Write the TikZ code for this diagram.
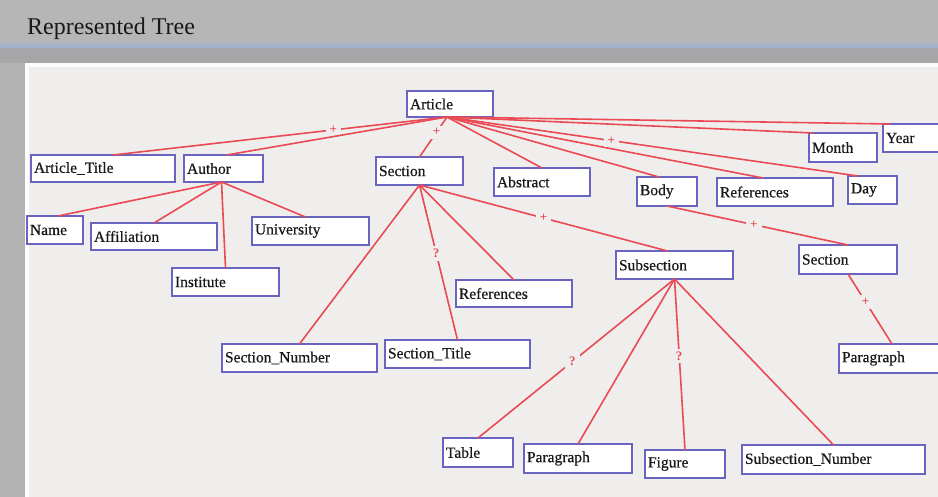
\documentclass[tikz,border=0pt]{standalone}
\usepackage{fontspec}
\setmainfont{Liberation Serif}
\newfontfamily\boxfont[FakeBold=0.5]{Liberation Serif}
\usetikzlibrary{calc}

\definecolor{winbg}{RGB}{178,178,178}
\definecolor{titlebg}{RGB}{182,182,182}
\definecolor{bandbg}{RGB}{166,166,168}
\definecolor{rulecol}{RGB}{160,176,204}
\definecolor{panel}{RGB}{240,238,236}
\definecolor{boxline}{RGB}{104,100,192}
\definecolor{edgered}{RGB}{234,74,84}
\definecolor{ink}{RGB}{24,24,24}

\tikzset{
  tbox/.style={draw=boxline, line width=1.7pt, fill=white, anchor=north west,
    inner xsep=3pt, inner ysep=0pt, outer sep=0pt, align=left, text=ink,
    font=\boxfont\fontsize{15.5}{17}\selectfont},
  link/.style={draw=edgered, line width=1.6pt},
  mk/.style={fill=panel, inner xsep=4pt, inner ysep=3pt, text=edgered,
    font=\fontsize{13}{13}\selectfont\bfseries}
}

\begin{document}
\begin{tikzpicture}[x=1pt,y=-1pt]
\clip (0,0) rectangle (938,497);

% window chrome
\fill[winbg] (0,0) rectangle (938,497);
\fill[titlebg] (0,0) rectangle (938,42);
\fill[rulecol!40!titlebg] (0,42) rectangle (938,45);
\fill[rulecol] (0,45) rectangle (938,48);
\fill[bandbg] (0,48) rectangle (938,63);
\fill[white!85!panel] (25,63) rectangle (938,497);
\fill[panel] (29,67) rectangle (938,497);
\node[anchor=west, text=ink, font=\fontsize{24}{26}\selectfont, inner sep=0pt]
  (title) at (27,29) {Represented Tree};

% tree nodes
\node[tbox, minimum height=26pt, text width=80pt]  (article)  at (407,91)  {Article};
\node[tbox, minimum height=27pt, text width=138pt] (atitle)   at (31,155)  {Article\_Title};
\node[tbox, minimum height=27pt, text width=73pt]  (author)   at (184,155) {Author};
\node[tbox, minimum height=28pt, text width=81pt]  (section)  at (376,157) {Section};
\node[tbox, minimum height=28pt, text width=90pt]  (abstract) at (494,168) {Abstract};
\node[tbox, minimum height=29pt, text width=54pt]  (body)     at (637,177) {Body};
\node[tbox, minimum height=28pt, text width=110pt] (refs)     at (717,178) {References};
\node[tbox, minimum height=28pt, text width=43pt]  (day)      at (848,176) {Day};
\node[tbox, minimum height=29pt, text width=62pt]  (month)    at (809,133) {Month};
\node[tbox, minimum height=28pt, text width=56pt]  (year)     at (883,124) {Year};

\node[tbox, minimum height=28pt, text width=50pt]  (name)     at (27,216)  {Name};
\node[tbox, minimum height=27pt, text width=120pt] (affil)    at (91,223)  {Affiliation};
\node[tbox, minimum height=28pt, text width=111pt] (univ)     at (252,217) {University};
\node[tbox, minimum height=28pt, text width=101pt] (inst)     at (172,268) {Institute};

\node[tbox, minimum height=28pt, text width=149pt] (secnum)   at (222,344) {Section\_Number};
\node[tbox, minimum height=28pt, text width=139pt] (sectitle) at (385,340) {Section\_Title};
\node[tbox, minimum height=27pt, text width=110pt] (srefs)    at (456,280) {References};
\node[tbox, minimum height=28pt, text width=111pt] (subsec)   at (616,251) {Subsection};

\node[tbox, minimum height=29pt, text width=92pt]  (bsection) at (799,245) {Section};
\node[tbox, minimum height=29pt, text width=100pt] (bpara)    at (839,344) {Paragraph};

\node[tbox, minimum height=29pt, text width=64pt]  (table)    at (443,438) {Table};
\node[tbox, minimum height=29pt, text width=102pt] (para)     at (524,444) {Paragraph};
\node[tbox, minimum height=28pt, text width=74pt]  (figure)   at (645,450) {Figure};
\node[tbox, minimum height=29pt, text width=177pt] (subnum)   at (742,445) {Subsection\_Number};

% edges from Article
\draw[link] ([xshift=-3pt]article.south) -- node[mk,pos=.34]{+} ([xshift=10pt]atitle.north);
\draw[link] ([xshift=-3pt]article.south) -- ([xshift=3pt]author.north);
\draw[link] ([xshift=-3pt]article.south) -- node[mk,pos=.38]{+} (section.north);
\draw[link] ([xshift=-3pt]article.south) -- (abstract.north);
\draw[link] ([xshift=-3pt]article.south) -- ([xshift=-8pt]body.north);
\draw[link] ([xshift=-3pt]article.south) -- ([xshift=-12pt]refs.north);
\draw[link] ([xshift=-3pt]article.south) -- node[mk,pos=.40]{+} ([xshift=10pt]day.north west);
\draw[link] ([xshift=-3pt]article.south) -- ([xshift=4pt]month.north west);
\draw[link] ([xshift=-3pt]article.south) -- ([xshift=7pt]year.north west);

% edges from Author
\draw[link] ([xshift=-2pt]author.south) -- ([xshift=3pt]name.north);
\draw[link] ([xshift=-2pt]author.south) -- (affil.north);
\draw[link] ([xshift=-2pt]author.south) -- (inst.north);
\draw[link] ([xshift=-2pt]author.south) -- ([xshift=-5pt]univ.north);

% edges from Section
\draw[link] (section.south) -- (secnum.north);
\draw[link] (section.south) -- node[mk,pos=.44]{?} (sectitle.north);
\draw[link] (section.south) -- (srefs.north);
\draw[link] (section.south) -- node[mk,pos=.50]{+} ([xshift=-7pt]subsec.north);

% Body branch
\draw[link] (body.south) -- node[mk,pos=.48]{+} (bsection.north);
\draw[link] (bsection.south) -- node[mk,pos=.40]{+} (bpara.north);

% edges from Subsection
\draw[link] (subsec.south) -- node[mk,pos=.52]{?} (table.north);
\draw[link] (subsec.south) -- (para.north);
\draw[link] (subsec.south) -- node[mk,pos=.45]{?} (figure.north);
\draw[link] (subsec.south) -- (subnum.north);
\end{tikzpicture}
\end{document}
